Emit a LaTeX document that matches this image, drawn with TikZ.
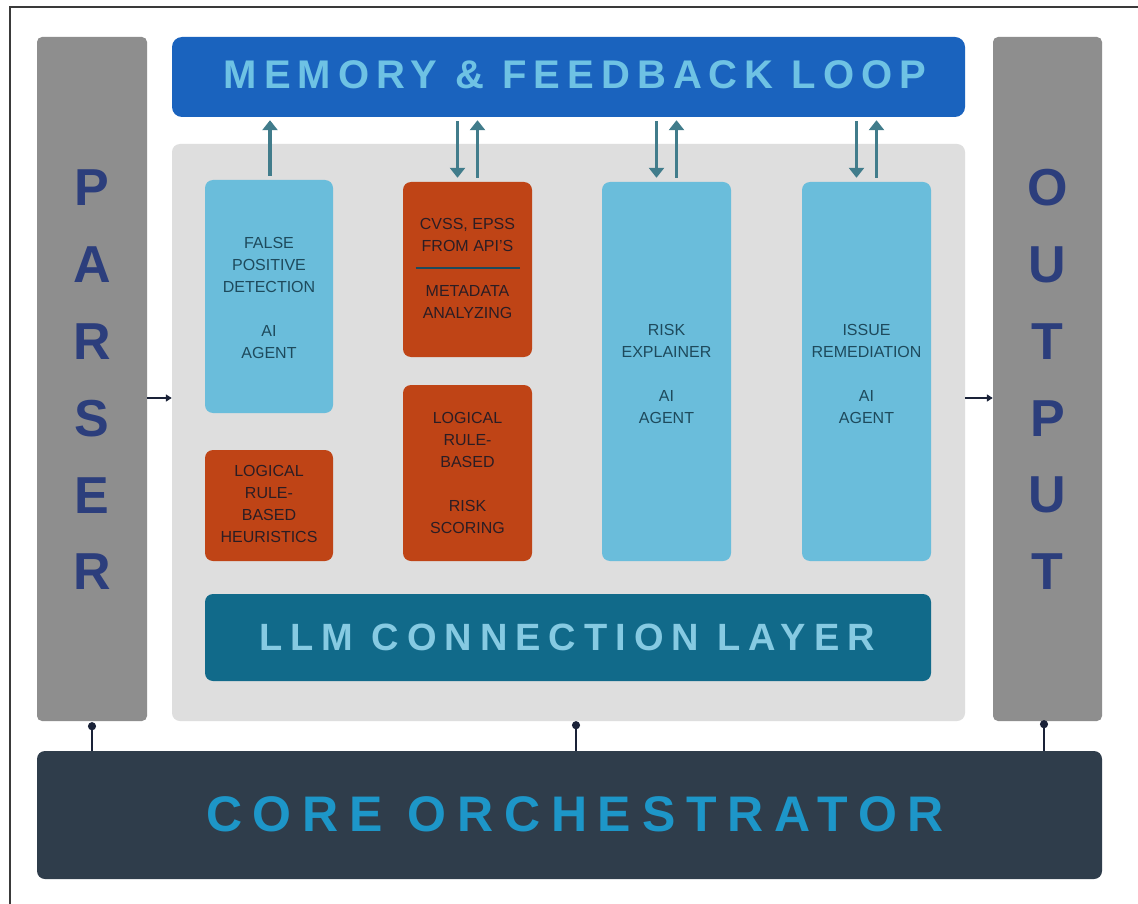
\documentclass[tikz,border=0pt]{standalone}
\usepackage{fontspec}
\setmainfont{Liberation Sans}
\newfontfamily\memfont[LetterSpace=17.5]{Liberation Sans}
\newfontfamily\llmfont[LetterSpace=21]{Liberation Sans}
\newfontfamily\corefont[LetterSpace=21.6]{Liberation Sans}
\usetikzlibrary{arrows.meta}
\definecolor{colgray}{HTML}{8E8E8E}
\definecolor{memblue}{HTML}{1A63BE}
\definecolor{panelgray}{HTML}{DEDEDE}
\definecolor{agentblue}{HTML}{6ABDDB}
\definecolor{rustorange}{HTML}{BF4416}
\definecolor{llmteal}{HTML}{116A8A}
\definecolor{coredark}{HTML}{2F3D4B}
\definecolor{letternavy}{HTML}{2C3E7C}
\definecolor{memtext}{HTML}{6EC2E4}
\definecolor{llmtext}{HTML}{86CAE2}
\definecolor{coretext}{HTML}{1D96C8}
\definecolor{agenttext}{HTML}{1E4A5C}
\definecolor{rusttext}{HTML}{2B1D24}
\definecolor{arrowteal}{HTML}{417C8B}
\definecolor{linknavy}{HTML}{1A2238}
\definecolor{framegray}{HTML}{3A3A3A}
\tikzset{
  box/.style={rectangle, inner sep=0pt, draw=none},
  colbox/.style={box, fill=colgray, rounded corners=5pt, minimum width=110pt, minimum height=684pt},
  agentbox/.style={box, fill=agentblue, rounded corners=8pt, minimum width=129pt},
  rustbox/.style={box, fill=rustorange, rounded corners=8pt, minimum width=129pt},
  agentlabel/.style={align=center, text=agenttext, font=\fontsize{16}{22}\selectfont, inner sep=0pt},
  rustlabel/.style={align=center, text=rusttext, font=\fontsize{16}{22}\selectfont, inner sep=0pt},
  vletter/.style={text=letternavy, font=\fontsize{52}{52}\selectfont\bfseries, inner sep=0pt},
  fbarrow/.style={draw=arrowteal, line width=3.5pt, -{Triangle[width=15pt,length=10pt]}},
  sidearrow/.style={draw=linknavy, line width=2pt, -{Triangle[width=7pt,length=6pt]}},
  link/.style={draw=linknavy, line width=2pt, -{Circle[length=8pt]}},
}
\begin{document}
\begin{tikzpicture}[x=1pt,y=-1pt]
\useasboundingbox (0,0) rectangle (1138,904);
\fill[white] (0,0) rectangle (1138,904);
% frame
\draw[framegray, line width=2pt] (10,905) -- (10,7) -- (1139,7);

% columns
\node[colbox] (parser) at (92,379) {};
\node[colbox, minimum width=109pt] (output) at (1047.5,379) {};
\foreach \L [count=\i from 0] in {P,A,R,S,E,R}
  \node[vletter] (pl\i) at (92,{188+76.8*\i}) {\L};
\foreach \L [count=\i from 0] in {O,U,T,P,U,T}
  \node[vletter] (ol\i) at (1047.5,{188+76.8*\i}) {\L};

% memory bar
\node[box, fill=memblue, rounded corners=10pt, minimum width=793pt, minimum height=80pt] (mem) at (568.5,77) {};
\node[text=memtext, font=\fontsize{40}{40}\selectfont\memfont\bfseries, inner sep=0pt] (memt) at (575,75) {MEMORY \& FEEDBACK LOOP};

% panel
\node[box, fill=panelgray, rounded corners=8pt, minimum width=793pt, minimum height=577pt] (panel) at (568.5,432.5) {};

% agents
\node[agentbox, minimum width=128pt, minimum height=233pt] (fp) at (269,296.5) {};
\node[agentlabel] (fpt) at (269,298) {FALSE\\POSITIVE\\DETECTION\\[22pt]AI\\AGENT};

\node[rustbox, minimum height=175pt] (cvss) at (467.5,269.5) {};
\node[rustlabel] (cvsst) at (467.5,235) {CVSS, EPSS\\FROM API'S};
\node[rustlabel] (metat) at (467.5,302) {METADATA\\ANALYZING};
\draw[agenttext, line width=2pt] ([xshift=-52pt]cvss.center |- 0,268) coordinate (dl) -- ([xshift=52pt]cvss.center |- 0,268) coordinate (dr);

\node[rustbox, minimum width=128pt, minimum height=111pt] (heur) at (269,505.5) {};
\node[rustlabel] (heurt) at (269,504) {LOGICAL\\RULE-\\BASED\\HEURISTICS};

\node[rustbox, minimum height=176pt] (rs) at (467.5,473) {};
\node[rustlabel] (rst) at (467.5,472.5) {LOGICAL\\RULE-\\BASED\\[22pt]RISK\\SCORING};

\node[agentbox, minimum height=379pt] (re) at (666.5,371.5) {};
\node[agentlabel] (ret) at (666.5,373.5) {RISK\\EXPLAINER\\[22pt]AI\\AGENT};

\node[agentbox, minimum height=379pt] (ir) at (866.5,371.5) {};
\node[agentlabel] (irt) at (866.5,373.5) {ISSUE\\REMEDIATION\\[22pt]AI\\AGENT};

% LLM layer
\node[box, fill=llmteal, rounded corners=8pt, minimum width=726pt, minimum height=87pt] (llm) at (568,637.5) {};
\node[text=llmtext, font=\fontsize{38}{38}\selectfont\llmfont\bfseries, inner sep=0pt] (llmt) at (567,637) {LLM CONNECTION LAYER};

% core
\node[box, fill=coredark, rounded corners=8pt, minimum width=1065pt, minimum height=128pt] (core) at (569.5,815) {};
\node[text=coretext, font=\fontsize{50}{50}\selectfont\corefont\bfseries, inner sep=0pt] (coret) at (575,814.5) {CORE ORCHESTRATOR};

% feedback arrows
\draw[fbarrow] ([xshift=1pt,yshift=4pt]fp.north) -- ([xshift=1pt,yshift=-3pt]fp.north |- mem.south);
\draw[fbarrow] ([xshift=-10pt,yshift=-4pt]cvss.north |- mem.south) -- ([xshift=-10pt,yshift=4pt]cvss.north);
\draw[fbarrow] ([xshift=10pt,yshift=4pt]cvss.north) -- ([xshift=10pt,yshift=-3pt]cvss.north |- mem.south);
\draw[fbarrow] ([xshift=-10pt,yshift=-4pt]re.north |- mem.south) -- ([xshift=-10pt,yshift=4pt]re.north);
\draw[fbarrow] ([xshift=10pt,yshift=4pt]re.north) -- ([xshift=10pt,yshift=-3pt]re.north |- mem.south);
\draw[fbarrow] ([xshift=-10pt,yshift=-4pt]ir.north |- mem.south) -- ([xshift=-10pt,yshift=4pt]ir.north);
\draw[fbarrow] ([xshift=10pt,yshift=4pt]ir.north) -- ([xshift=10pt,yshift=-3pt]ir.north |- mem.south);

% side arrows
\draw[sidearrow] (parser.east |- 0,398) -- (panel.west |- 0,398);
\draw[sidearrow] (panel.east |- 0,398) -- (output.west |- 0,398);

% links to core
\draw[link] (parser.south |- core.north) -- ([yshift=-1pt]parser.south);
\draw[link] ([xshift=7.5pt]panel.south |- core.north) -- ([xshift=7.5pt]panel.south);
\draw[link] ([xshift=-3.5pt]output.south |- core.north) -- ([xshift=-3.5pt,yshift=1pt]output.south);
\end{tikzpicture}
\end{document}
